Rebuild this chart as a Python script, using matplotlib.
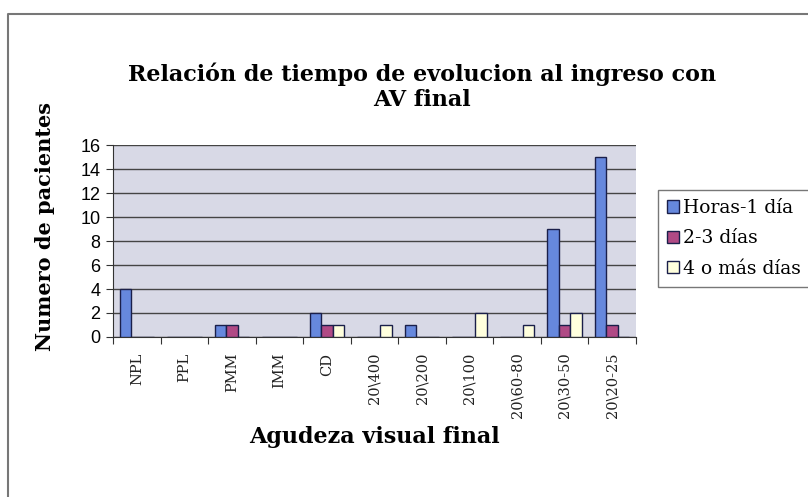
import numpy as np
import matplotlib
matplotlib.use("Agg")
from matplotlib import pyplot as plt
from matplotlib.lines import Line2D

categories = ["NPL", "PPL", "PMM", "IMM", "CD", "20\\400", "20\\200",
              "20\\100", "20\\60-80", "20\\30-50", "20\\20-25"]
horas_1_dia = [4, 0, 1, 0, 2, 0, 1, 0, 0, 9, 15]
dias_2_3 = [0, 0, 1, 0, 1, 0, 0, 0, 0, 1, 1]
dias_4_mas = [0, 0, 0, 0, 1, 1, 0, 2, 1, 2, 0]
series_names = ["Horas-1 día", "2-3 días", "4 o más días"]
yticks = list(range(0, 17, 2))

colors = ["#6688DD", "#B04A85", "#FFFFDD"]
serif = "DejaVu Serif"

fig = plt.figure(figsize=(8.08, 4.97), dpi=100)
# outer chart border: only top and left edges visible in the crop
fig.lines.append(Line2D([0.010, 0.010, 1.0], [0.0, 0.972, 0.972], transform=fig.transFigure,
                        color="#777777", lw=1.5))

ax = fig.add_axes([0.14, 0.322, 0.647, 0.386])
ax.set_facecolor("#D8D9E6")

x = np.arange(len(categories))
w = 0.24
for i, (vals, c, name) in enumerate(zip([horas_1_dia, dias_2_3, dias_4_mas], colors, series_names)):
    ax.bar(x + (i - 1) * w, vals, width=w, color=c, edgecolor="#1A1F4A", lw=1.0,
           label=name, zorder=3)

ax.set_xlim(-0.5, len(categories) - 0.5)
ax.set_ylim(0, 16)
ax.set_yticks(yticks)
ax.set_yticklabels([str(t) for t in yticks], fontsize=13, family="Liberation Sans")
ax.set_xticks(np.arange(len(categories) + 1) - 0.5)
ax.set_xticklabels([])
ax.tick_params(axis="x", length=5, direction="out", color="#333333")
ax.tick_params(axis="y", length=5, direction="out", color="#333333", pad=4)
for xi, lab in zip(x, categories):
    ax.text(xi, -1.3, lab, rotation=90, ha="center", va="top", fontsize=10.5,
            family=serif, color="#222222")

ax.grid(axis="y", color="#444444", lw=1.0, zorder=1)
ax.set_axisbelow(True)
for s in ["top", "right"]:
    ax.spines[s].set_visible(False)
ax.spines["left"].set_color("#333333")
ax.spines["bottom"].set_color("#333333")

fig.text(0.522, 0.826, "Relación de tiempo de evolucion al ingreso con\nAV final",
         ha="center", va="center", fontsize=16, fontweight="bold", family=serif,
         linespacing=1.15)
fig.text(0.056, 0.545, "Numero de pacientes", rotation=90, ha="center", va="center",
         fontsize=15, fontweight="bold", family=serif)
fig.text(0.463, 0.12, "Agudeza visual final", ha="center", va="center",
         fontsize=16, fontweight="bold", family=serif)

leg = fig.legend(loc="upper left", bbox_to_anchor=(0.814, 0.618), frameon=True,
                 fancybox=False, edgecolor="#555555", prop={"family": serif, "size": 13.5},
                 handlelength=0.65, handleheight=0.65, handletextpad=0.2,
                 borderpad=0.5, labelspacing=0.65, borderaxespad=0)
leg.get_frame().set_linewidth(1.0)

fig.savefig("out.png", dpi=100)
